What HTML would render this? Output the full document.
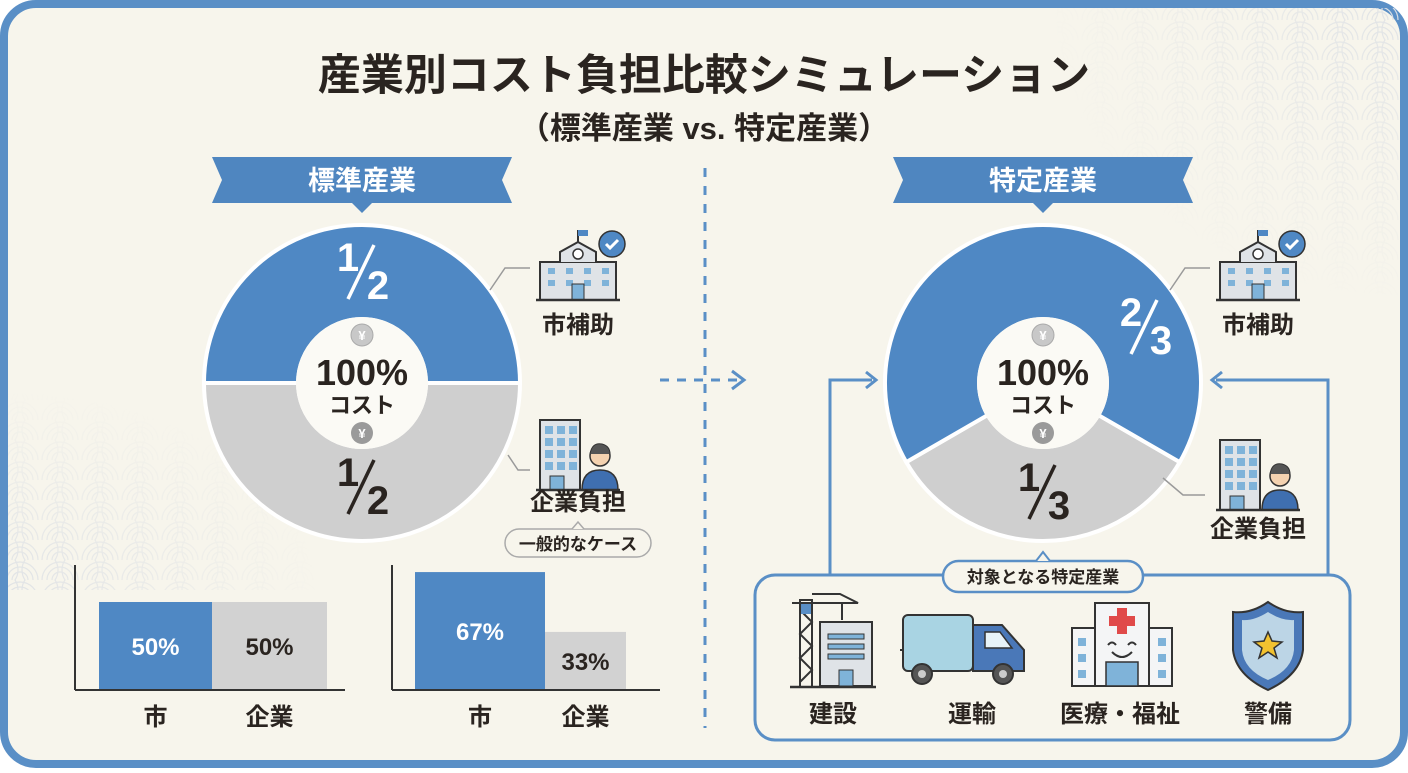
<!DOCTYPE html>
<html><head><meta charset="utf-8">
<style>
html,body{margin:0;padding:0;}
body{width:1408px;height:768px;overflow:hidden;background:#fff;font-family:"Liberation Sans","Noto Sans CJK JP",sans-serif;}
svg text{font-family:"Liberation Sans","Noto Sans CJK JP",sans-serif;}
</style></head>
<body>
<svg id="main" width="1408" height="768" viewBox="0 0 1408 768" xmlns="http://www.w3.org/2000/svg">
<defs>
<pattern id="wave" width="40" height="20" patternUnits="userSpaceOnUse">
<g fill="none" stroke="#dfe2e5" stroke-width="1.2">
<circle cx="20" cy="20" r="18"/><circle cx="20" cy="20" r="13"/><circle cx="20" cy="20" r="8"/>
<circle cx="0" cy="10" r="18"/><circle cx="40" cy="10" r="18"/>
</g>
</pattern>
<radialGradient id="fadeTR" cx="1" cy="0" r="1"><stop offset="0" stop-color="#fff" stop-opacity="1"/><stop offset="1" stop-color="#fff" stop-opacity="0"/></radialGradient>
<mask id="mTR"><rect x="1050" y="0" width="358" height="300" fill="url(#fadeTR)"/></mask>
<radialGradient id="fadeBL" cx="0" cy="1" r="1"><stop offset="0" stop-color="#fff" stop-opacity="1"/><stop offset="1" stop-color="#fff" stop-opacity="0"/></radialGradient>
<mask id="mBL"><rect x="0" y="390" width="320" height="200" fill="url(#fadeBL)"/></mask>
</defs>
<rect x="4" y="4" width="1400" height="760" rx="32" fill="#f7f5ec" stroke="#5a8fc6" stroke-width="8"/>
<rect x="1050" y="8" width="350" height="290" fill="url(#wave)" mask="url(#mTR)"/>
<rect x="8" y="390" width="312" height="200" fill="url(#wave)" mask="url(#mBL)"/>

<text x="704" y="90" text-anchor="middle" font-size="43" font-weight="bold" fill="#2a2420">産業別コスト負担比較シミュレーション</text>
<text x="704" y="139" text-anchor="middle" font-size="31" font-weight="bold" fill="#2a2420">（標準産業 vs. 特定産業）</text>

<g>
<path d="M212,157 L512,157 L502,180 L512,203 L372,203 L362,213 L352,203 L212,203 L222,180 Z" fill="#4f86c0"/>
<text x="362" y="190" text-anchor="middle" font-size="27" font-weight="bold" fill="#fff">標準産業</text>
</g>
<g>
<path d="M893,157 L1193,157 L1183,180 L1193,203 L1053,203 L1043,213 L1033,203 L893,203 L903,180 Z" fill="#4f86c0"/>
<text x="1043" y="190" text-anchor="middle" font-size="27" font-weight="bold" fill="#fff">特定産業</text>
</g>

<line x1="705" y1="168" x2="705" y2="728" stroke="#5a8fc6" stroke-width="3" stroke-dasharray="9 9"/>
<g>
<line x1="660" y1="380" x2="740" y2="380" stroke="#5a8fc6" stroke-width="3" stroke-dasharray="9 8"/>
<path d="M732,371 L744,380 L732,389" fill="none" stroke="#5a8fc6" stroke-width="3"/>
</g>

<g id="donuts"></g>
<g id="bars"></g>

<g stroke="#9a9a9a" stroke-width="1.5" fill="none">
<path d="M490,290 L505,268 L530,268"/><path d="M508,455 L518,470 L530,470"/>
<path d="M1170,290 L1185,268 L1210,268"/><path d="M1163,478 L1183,495 L1205,495"/>
</g>

<g id="cityLeft" transform="translate(578,272)"></g>
<g id="cityRight" transform="translate(1258,272)"></g>
<text x="578" y="333" text-anchor="middle" font-size="24" font-weight="bold" fill="#2a2420">市補助</text>
<text x="1258" y="333" text-anchor="middle" font-size="24" font-weight="bold" fill="#2a2420">市補助</text>
<g id="compLeft" transform="translate(578,462)"></g>
<g id="compRight" transform="translate(1258,482)"></g>
<text x="578" y="510" text-anchor="middle" font-size="24" font-weight="bold" fill="#2a2420">企業負担</text>
<text x="1258" y="537" text-anchor="middle" font-size="24" font-weight="bold" fill="#2a2420">企業負担</text>
<g>
<rect x="505" y="529" width="146" height="28" rx="14" fill="#f7f5ec" stroke="#aaa" stroke-width="1.5"/>
<path d="M572,529 L578,522 L584,529" fill="#f7f5ec" stroke="#aaa" stroke-width="1.5"/>
<text x="578" y="550" text-anchor="middle" font-size="17" font-weight="bold" fill="#2a2420">一般的なケース</text>
</g>

<g stroke="#5a8fc6" stroke-width="3" fill="none">
<path d="M830,575 L830,380 L872,380"/><path d="M866,372 L876,380 L866,388"/>
<path d="M1328,575 L1328,380 L1216,380"/><path d="M1222,372 L1212,380 L1222,388"/>
</g>

<g>
<rect x="755" y="575" width="595" height="165" rx="20" fill="none" stroke="#5a8fc6" stroke-width="3"/>
<rect x="943" y="561" width="200" height="31" rx="15.5" fill="#f7f5ec" stroke="#5a8fc6" stroke-width="2.5"/>
<path d="M1036,561 L1043,552 L1050,561" fill="#f7f5ec" stroke="#5a8fc6" stroke-width="2"/>
<text x="1043" y="583" text-anchor="middle" font-size="17" font-weight="bold" fill="#2a2420">対象となる特定産業</text>
</g>
<g>
<g stroke="#333" stroke-width="2" fill="none">
<path d="M800,686 L800,600 L812,600 L812,686"/><path d="M800,610 L812,622 L800,634 L812,646 L800,658 L812,670 L800,682"/>
<path d="M792,603 L858,603 L840,594 L812,594"/><line x1="842" y1="603" x2="842" y2="620"/>
</g>
<rect x="801" y="604" width="10" height="10" fill="#5a8fc6"/>
<rect x="820" y="622" width="52" height="64" fill="#dfe3e7" stroke="#333" stroke-width="2"/>
<rect x="828" y="634" width="36" height="5" fill="#7fb3d9" stroke="#333" stroke-width="1"/>
<rect x="828" y="644" width="36" height="5" fill="#7fb3d9" stroke="#333" stroke-width="1"/>
<rect x="828" y="654" width="36" height="5" fill="#7fb3d9" stroke="#333" stroke-width="1"/>
<rect x="839" y="670" width="14" height="16" fill="#7fb3d9" stroke="#333" stroke-width="1"/>
<line x1="790" y1="687" x2="876" y2="687" stroke="#333" stroke-width="2.5"/>
<text x="833" y="722" text-anchor="middle" font-size="24" font-weight="bold" fill="#2a2420">建設</text>
</g>
<g>
<g stroke="#333" stroke-width="2"><line x1="900" y1="650" x2="918" y2="650"/><line x1="905" y1="640" x2="920" y2="640"/><line x1="910" y1="630" x2="922" y2="630"/></g>
<rect x="903" y="615" width="70" height="56" rx="5" fill="#a9d4e3" stroke="#333" stroke-width="2"/>
<path d="M973,625 L1002,625 L1024,650 L1024,671 L973,671 Z" fill="#4a78b8" stroke="#333" stroke-width="2"/>
<path d="M985,632 L1000,632 L1012,648 L985,648 Z" fill="#e8f3f8" stroke="#333" stroke-width="1.5"/>
<circle cx="922" cy="674" r="10" fill="#555" stroke="#333" stroke-width="2"/><circle cx="922" cy="674" r="4" fill="#ccc"/>
<circle cx="1003" cy="674" r="10" fill="#555" stroke="#333" stroke-width="2"/><circle cx="1003" cy="674" r="4" fill="#ccc"/>
<text x="972" y="722" text-anchor="middle" font-size="24" font-weight="bold" fill="#2a2420">運輸</text>
</g>
<g>
<rect x="1072" y="628" width="100" height="58" fill="#f4f5f6" stroke="#333" stroke-width="2"/>
<rect x="1095" y="603" width="54" height="83" fill="#f4f5f6" stroke="#333" stroke-width="2"/>
<path d="M1117,608 h10 v8 h8 v10 h-8 v8 h-10 v-8 h-8 v-10 h8z" fill="#e04a4a"/>
<rect x="1078" y="638" width="8" height="8" fill="#7fb3d9"/><rect x="1078" y="654" width="8" height="8" fill="#7fb3d9"/><rect x="1078" y="670" width="8" height="8" fill="#7fb3d9"/>
<rect x="1158" y="638" width="8" height="8" fill="#7fb3d9"/><rect x="1158" y="654" width="8" height="8" fill="#7fb3d9"/><rect x="1158" y="670" width="8" height="8" fill="#7fb3d9"/>
<path d="M1108,645 q4,-5 8,0 M1128,645 q4,-5 8,0 M1112,652 q10,10 20,0" fill="none" stroke="#333" stroke-width="2"/>
<rect x="1106" y="662" width="32" height="24" fill="#7fb3d9" stroke="#333" stroke-width="1.5"/>
<text x="1120" y="722" text-anchor="middle" font-size="24" font-weight="bold" fill="#2a2420">医療・福祉</text>
</g>
<g>
<path d="M1268,602 Q1285,614 1303,612 L1303,650 Q1300,675 1268,690 Q1236,675 1233,650 L1233,612 Q1251,614 1268,602 Z" fill="#4a78b8" stroke="#333" stroke-width="2"/>
<path d="M1268,612 Q1282,621 1294,620 L1294,650 Q1292,670 1268,680 Q1244,670 1242,650 L1242,620 Q1254,621 1268,612 Z" fill="#bcd5e6"/>
<path d="M1268,632 l4,9 10,1 -8,6 3,10 -9,-6 -9,6 3,-10 -8,-6 10,-1z" fill="#f2c230" stroke="#333" stroke-width="1.5"/>
<text x="1268" y="722" text-anchor="middle" font-size="24" font-weight="bold" fill="#2a2420">警備</text>
</g>
</svg>

<script>
const donutIds = ['standard', 'specific'];
const citySharePct = [50, 66.7];
const companySharePct = [50, 33.3];
const cityFracNum = ['1', '2'];
const cityFracDen = ['2', '3'];
const compFracNum = ['1', '1'];
const compFracDen = ['2', '3'];
const barCategories = ['市', '企業'];
const barStandardValues = [50, 50];
const barSpecificValues = [67, 33];
const barStandardLabels = ['50%', '50%'];
const barSpecificLabels = ['67%', '33%'];

const NS = 'http://www.w3.org/2000/svg';
function mk(tag, attrs, parent) {
  const e = document.createElementNS(NS, tag);
  for (const k in attrs) e.setAttribute(k, attrs[k]);
  if (parent) parent.appendChild(e);
  return e;
}
function pt(cx, cy, r, deg) { const a = deg * Math.PI / 180; return [cx + r * Math.cos(a), cy + r * Math.sin(a)]; }
function arcPath(cx, cy, R, r, a0, a1) {
  const large = (a1 - a0) > 180 ? 1 : 0;
  const p0 = pt(cx, cy, R, a0), p1 = pt(cx, cy, R, a1), q1 = pt(cx, cy, r, a1), q0 = pt(cx, cy, r, a0);
  return `M${p0[0]},${p0[1]} A${R},${R} 0 ${large} 1 ${p1[0]},${p1[1]} L${q1[0]},${q1[1]} A${r},${r} 0 ${large} 0 ${q0[0]},${q0[1]} Z`;
}
function frac(g, x, y, num, den, color) {
  const t1 = mk('text', {x: x - 14, y: y - 4, 'text-anchor': 'middle', 'font-size': 40, 'font-weight': 'bold', fill: color}, g); t1.textContent = num;
  mk('line', {x1: x - 14, y1: y + 24, x2: x + 12, y2: y - 30, stroke: color, 'stroke-width': 3.5}, g);
  const t2 = mk('text', {x: x + 16, y: y + 24, 'text-anchor': 'middle', 'font-size': 40, 'font-weight': 'bold', fill: color}, g); t2.textContent = den;
}
const donutG = document.getElementById('donuts');
const centers = [[362, 383], [1043, 383]];
const fracPosCity = [[362, 275], [1145, 330]];
const fracPosComp = [[362, 490], [1043, 495]];
donutIds.forEach((id, i) => {
  const [cx, cy] = centers[i];
  const R = 158, r = 66;
  const g = mk('g', {}, donutG);
  
  
  const total = citySharePct[i] + companySharePct[i];
  const compSpan = companySharePct[i] / total * 360;
  const c0 = 90 - compSpan / 2, c1 = 90 + compSpan / 2;
  const comp = mk('path', {d: arcPath(cx, cy, R, r - 2, c0, c1), fill: '#cfcfcf', stroke: '#fff', 'stroke-width': 4}, g);
  
  
  const city = mk('path', {d: arcPath(cx, cy, R, r - 2, c1, c0 + 360), fill: '#4f88c4', stroke: '#fff', 'stroke-width': 4}, g);
  
  
  mk('circle', {cx, cy, r: r, fill: '#fbfaf5'}, g);
  mk('circle', {cx, cy: cy - 48, r: 11, fill: '#c8c8c8', stroke: '#aaa'}, g);
  const y1 = mk('text', {x: cx, y: cy - 43, 'text-anchor': 'middle', 'font-size': 13, 'font-weight': 'bold', fill: '#fff'}, g); y1.textContent = '¥';
  mk('circle', {cx, cy: cy + 50, r: 11, fill: '#9a9a9a'}, g);
  const y2 = mk('text', {x: cx, y: cy + 55, 'text-anchor': 'middle', 'font-size': 13, 'font-weight': 'bold', fill: '#fff'}, g); y2.textContent = '¥';
  const pc = mk('text', {x: cx, y: cy + 2, 'text-anchor': 'middle', 'font-size': 36, 'font-weight': 'bold', fill: '#2a2420'}, g); pc.textContent = '100%';
  const co = mk('text', {x: cx, y: cy + 30, 'text-anchor': 'middle', 'font-size': 22, 'font-weight': 'bold', fill: '#2a2420'}, g); co.textContent = 'コスト';
  frac(g, fracPosCity[i][0], fracPosCity[i][1], cityFracNum[i], cityFracDen[i], '#fff');
  frac(g, fracPosComp[i][0], fracPosComp[i][1], compFracNum[i], compFracDen[i], '#2a2420');
});

const barsG = document.getElementById('bars');
const charts = [
  {name: 'standard', axisX: 75, x0: 99, widths: [113, 115], vals: barStandardValues, labels: barStandardLabels, right: 345},
  {name: 'specific', axisX: 392, x0: 415, widths: [130, 81], vals: barSpecificValues, labels: barSpecificLabels, right: 660}
];
const baseY = 690, scaleH = 176;
function yScale(v) { return baseY - v / 100 * scaleH; }
charts.forEach(c => {
  const g = mk('g', {}, barsG);
  
  
  let x = c.x0;
  c.vals.forEach((v, j) => {
    const w = c.widths[j];
    const b = mk('rect', {x, y: yScale(v), width: w, height: baseY - yScale(v), fill: j === 0 ? '#4f88c4' : '#d2d2d2'}, g);
    
    
    const lt = mk('text', {x: x + w / 2, y: (yScale(v) + baseY) / 2 + 9, 'text-anchor': 'middle', 'font-size': 24, 'font-weight': 'bold', fill: j === 0 ? '#fff' : '#2a2420'}, g);
    lt.textContent = c.labels[j];
    
    
    const ct = mk('text', {x: x + w / 2, y: 725, 'text-anchor': 'middle', 'font-size': 24, 'font-weight': 'bold', fill: '#2a2420'}, g);
    ct.textContent = barCategories[j];
    
    
    x += w;
  });
  mk('line', {x1: c.axisX, y1: 565, x2: c.axisX, y2: baseY, stroke: '#333', 'stroke-width': 2}, g);
  mk('line', {x1: c.axisX, y1: baseY, x2: c.right, y2: baseY, stroke: '#333', 'stroke-width': 2}, g);
});

function cityHall(id) {
  const g = document.getElementById(id);
  mk('rect', {x: -38, y: -10, width: 76, height: 38, fill: '#dfe3e7', stroke: '#333', 'stroke-width': 2}, g);
  mk('path', {d: 'M-18,-10 L-18,-20 L0,-30 L18,-20 L18,-10', fill: '#dfe3e7', stroke: '#333', 'stroke-width': 2}, g);
  mk('line', {x1: 0, y1: -30, x2: 0, y2: -42, stroke: '#333', 'stroke-width': 2}, g);
  mk('rect', {x: 0, y: -42, width: 10, height: 6, fill: '#4f88c4'}, g);
  mk('circle', {cx: 0, cy: -18, r: 5, fill: '#fff', stroke: '#333', 'stroke-width': 1.5}, g);
  [-30, -12, 6, 24].forEach(xx => { [-4, 8].forEach(yy => mk('rect', {x: xx, y: yy, width: 7, height: 6, fill: '#7fb3d9'}, g)); });
  mk('rect', {x: -6, y: 12, width: 12, height: 16, fill: '#7fb3d9', stroke: '#333', 'stroke-width': 1}, g);
  mk('line', {x1: -42, y1: 28, x2: 42, y2: 28, stroke: '#333', 'stroke-width': 2.5}, g);
  mk('circle', {cx: 34, cy: -28, r: 13, fill: '#4f88c4', stroke: '#333', 'stroke-width': 1.5}, g);
  mk('path', {d: 'M28,-28 L32,-24 L40,-32', fill: 'none', stroke: '#fff', 'stroke-width': 3}, g);
}
function company(id) {
  const g = document.getElementById(id);
  mk('rect', {x: -38, y: -42, width: 40, height: 70, fill: '#dfe3e7', stroke: '#333', 'stroke-width': 2}, g);
  for (let r = 0; r < 4; r++) for (let c = 0; c < 3; c++) mk('rect', {x: -33 + c * 12, y: -36 + r * 12, width: 8, height: 8, fill: '#7fb3d9'}, g);
  mk('rect', {x: -28, y: 14, width: 14, height: 14, fill: '#7fb3d9', stroke: '#333', 'stroke-width': 1}, g);
  mk('circle', {cx: 22, cy: -6, r: 10, fill: '#f4d2b0', stroke: '#333', 'stroke-width': 1.5}, g);
  mk('path', {d: 'M12,-8 Q14,-20 24,-18 Q32,-16 32,-8', fill: '#555', stroke: '#333', 'stroke-width': 1}, g);
  mk('path', {d: 'M4,28 Q4,8 22,8 Q40,8 40,28 Z', fill: '#3f6fb0', stroke: '#333', 'stroke-width': 1.5}, g);
  mk('line', {x1: -42, y1: 28, x2: 42, y2: 28, stroke: '#333', 'stroke-width': 2.5}, g);
}
cityHall('cityLeft'); cityHall('cityRight');
company('compLeft'); company('compRight');
</script>
</body></html>
